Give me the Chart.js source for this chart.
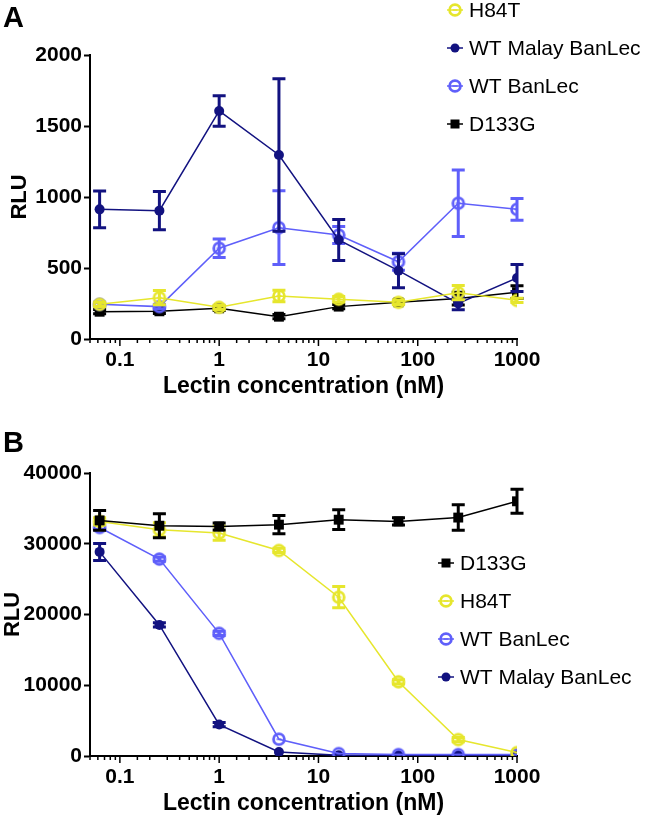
<!DOCTYPE html>
<html>
<head>
<meta charset="utf-8">
<script src="https://cdn.jsdelivr.net/npm/chart.js@4"></script>
<style>
    body { margin: 0; background: #fff; }
    #wrap { width: 645px; height: 818px; }
    canvas { display: block; }
</style>
</head>
<body>
<div id="wrap">
    <canvas id="chartA" width="645" height="400"></canvas>
    <canvas id="chartB" width="645" height="418"></canvas>
</div>
<script>
// Lectin concentrations (nM), same for both panels
const concentrations = [0.0625, 0.25, 1, 4, 16, 64, 256, 1000];
const xTickLabels = [0.1, 1, 10, 100, 1000];

// Panel A values (RLU) and error bars
const h84tA = [244, 291, 223, 303, 280, 258, 326, 272];
const h84tAErr = [15, 50, 15, 40, 20, 15, 50, 15];
const malayA = [913, 904, 1606, 1296, 697, 481, 251, 430];
const malayAErr = [130, 135, 107, 537, 145, 120, 45, 95];
const wtA = [244, 228, 639, 784, 732, 544, 956, 913];
const wtAErr = [15, 15, 65, 260, 60, 60, 235, 77];
const d133gA = [192, 195, 216, 157, 228, 258, 285, 330];
const d133gAErr = [15, 15, 15, 15, 15, 15, 45, 45];

// Panel B values (RLU) and error bars
const d133gB = [33300, 32550, 32450, 32700, 33400, 33160, 33700, 36000];
const d133gBErr = [1400, 1700, 500, 1300, 1400, 500, 1800, 1700];
const h84tB = [33160, 31980, 31510, 29050, 22440, 10490, 2320, 480];
const h84tBErr = [500, 1000, 1000, 300, 1500, 300, 300, 200];
const wtB = [32300, 27830, 17340, 2370, 340, 200, 200, 200];
const wtBErr = [300, 300, 300, 200, 100, 100, 100, 100];
const malayB = [28850, 18520, 4440, 570, 100, 100, 100, 100];
const malayBErr = [1200, 300, 300, 100, 50, 50, 50, 50];

const YELLOW = 'rgb(230,230,45)';
const BLUE = 'rgb(95,95,250)';
const NAVY = 'rgb(18,18,128)';
const BLACK = '#000';
const FONT = "'Liberation Sans', Arial, sans-serif";

// open circle marker with the little dash in the middle
function makeRing(color) {
    const c = document.createElement('canvas');
    c.width = 16;
    c.height = 16;
    const g = c.getContext('2d');
    g.strokeStyle = color;
    g.lineWidth = 2.8;
    g.beginPath();
    g.arc(8, 8, 5.4, 0, Math.PI * 2);
    g.stroke();
    g.fillStyle = color;
    g.fillRect(5.5, 7.3, 5, 1.4);
    return c;
}

const ringYellow = makeRing(YELLOW);
const ringBlue = makeRing(BLUE);

const series = {
    h84t: { label: 'H84T', color: YELLOW, pointStyle: ringYellow, radius: 8 },
    malay: { label: 'WT Malay BanLec', color: NAVY, pointStyle: 'circle', radius: 5 },
    wt: { label: 'WT BanLec', color: BLUE, pointStyle: ringBlue, radius: 8 },
    d133g: { label: 'D133G', color: BLACK, pointStyle: 'rect', radius: 7 }
};

function dataset(key, values, errors) {
    const s = series[key];
    return {
        label: s.label,
        data: concentrations.map((c, i) => ({ x: c, y: values[i] })),
        errors: errors,
        borderColor: s.color,
        backgroundColor: s.color,
        borderWidth: 1.5,
        pointStyle: s.pointStyle,
        pointRadius: s.radius,
        pointHoverRadius: s.radius,
        pointBorderWidth: 0,
        tension: 0
    };
}

// error bars, drawn under each dataset's points
const errorBars = {
    id: 'errorBars',
    beforeDatasetDraw(chart, args) {
        const ds = chart.data.datasets[args.index];
        if (!ds.errors) return;
        const y = chart.scales.y;
        const ctx = chart.ctx;
        ctx.save();
        ctx.strokeStyle = ds.borderColor;
        ctx.lineWidth = 3;
        args.meta.data.forEach((pt, i) => {
            const e = ds.errors[i];
            const v = ds.data[i].y;
            const top = y.getPixelForValue(v + e);
            const bot = y.getPixelForValue(Math.max(v - e, 0));
            if (bot - top < 4) return;
            ctx.beginPath();
            ctx.moveTo(pt.x, top);
            ctx.lineTo(pt.x, bot);
            ctx.moveTo(pt.x - 6.5, top);
            ctx.lineTo(pt.x + 6.5, top);
            ctx.moveTo(pt.x - 6.5, bot);
            ctx.lineTo(pt.x + 6.5, bot);
            ctx.stroke();
        });
        ctx.restore();
    }
};

// log axis tick marks: long ones at decades, short ones between
const logTicks = {
    id: 'logTicks',
    afterDraw(chart) {
        const x = chart.scales.x;
        const ctx = chart.ctx;
        ctx.save();
        ctx.strokeStyle = '#000';
        ctx.lineWidth = 1.5;
        x.ticks.forEach(t => {
            const lg = Math.log10(t.value);
            const major = Math.abs(lg - Math.round(lg)) < 1e-6;
            const px = x.getPixelForValue(t.value);
            ctx.beginPath();
            ctx.moveTo(px, x.top);
            ctx.lineTo(px, x.top + (major ? 7 : 4));
            ctx.stroke();
        });
        ctx.restore();
    }
};

// legend and panel letter
const sideLegend = {
    id: 'sideLegend',
    afterDraw(chart, args, opts) {
        const ctx = chart.ctx;
        ctx.save();
        ctx.fillStyle = '#000';
        ctx.font = 'bold 29px ' + FONT;
        ctx.textBaseline = 'alphabetic';
        ctx.fillText(opts.letter, 3, opts.letterY);

        ctx.font = '21px ' + FONT;
        ctx.textBaseline = 'middle';
        opts.order.forEach((key, i) => {
            const s = series[key];
            const mx = opts.x;
            const my = opts.y + i * opts.gap;
            ctx.strokeStyle = s.color;
            ctx.lineWidth = 1.5;
            ctx.beginPath();
            ctx.moveTo(mx - 8, my);
            ctx.lineTo(mx + 8, my);
            ctx.stroke();
            ctx.fillStyle = s.color;
            if (s.pointStyle === 'rect') {
                ctx.fillRect(mx - 4.5, my - 4.5, 9, 9);
            } else if (s.pointStyle === 'circle') {
                ctx.beginPath();
                ctx.arc(mx, my, 4.5, 0, Math.PI * 2);
                ctx.fill();
            } else {
                ctx.drawImage(s.pointStyle, mx - 8, my - 8);
            }
            ctx.fillStyle = '#000';
            ctx.fillText(s.label, opts.textX, my + 1);
        });
        ctx.restore();
    }
};

function makeChart(id, cfg) {
    return new Chart(document.getElementById(id), {
        type: 'line',
        data: { datasets: cfg.datasets },
        options: {
            responsive: false,
            animation: false,
            events: [],
            layout: { padding: { top: cfg.top, right: 128, left: 0, bottom: 0 } },
            scales: {
                x: {
                    type: 'logarithmic',
                    min: 0.05,
                    max: 1000,
                    afterFit: (scale) => { scale.height = cfg.xHeight; },
                    border: { color: '#000', width: 2 },
                    grid: { display: false },
                    ticks: {
                        autoSkip: false,
                        maxRotation: 0,
                        padding: 1,
                        color: '#000',
                        font: { family: FONT, size: 21, weight: 'bold' },
                        callback: (v) => xTickLabels.includes(v) ? String(v) : ''
                    },
                    title: {
                        display: true,
                        text: 'Lectin concentration (nM)',
                        color: '#000',
                        font: { family: FONT, size: 23, weight: 'bold' },
                        padding: { top: 0, bottom: cfg.xTitlePad }
                    }
                },
                y: {
                    min: 0,
                    max: cfg.yMax,
                    afterFit: (scale) => { scale.width = 90; },
                    border: { color: '#000', width: 2 },
                    grid: {
                        drawOnChartArea: false,
                        drawTicks: true,
                        tickLength: 6,
                        tickColor: '#000',
                        tickWidth: 2
                    },
                    ticks: {
                        stepSize: cfg.yStep,
                        padding: 2,
                        color: '#000',
                        font: { family: FONT, size: 21, weight: 'bold' },
                        callback: (v) => String(v)
                    },
                    title: {
                        display: true,
                        text: 'RLU',
                        color: '#000',
                        font: { family: FONT, size: 22, weight: 'bold' },
                        padding: { top: cfg.yTitlePad, bottom: 0 }
                    }
                }
            },
            plugins: {
                legend: { display: false },
                tooltip: { enabled: false },
                sideLegend: cfg.legend
            }
        },
        plugins: [errorBars, logTicks, sideLegend]
    });
}

makeChart('chartA', {
    top: 55,
    xHeight: 61,
    xTitlePad: 0,
    yTitlePad: 7,
    yMax: 2000,
    yStep: 500,
    datasets: [
        dataset('h84t', h84tA, h84tAErr),
        dataset('malay', malayA, malayAErr),
        dataset('wt', wtA, wtAErr),
        dataset('d133g', d133gA, d133gAErr)
    ],
    legend: { letter: 'A', letterY: 27, x: 455, textX: 469, y: 10, gap: 38, order: ['h84t', 'malay', 'wt', 'd133g'] }
});

makeChart('chartB', {
    top: 73,
    xHeight: 62,
    xTitlePad: 1,
    yTitlePad: 0,
    yMax: 40000,
    yStep: 10000,
    datasets: [
        dataset('d133g', d133gB, d133gBErr),
        dataset('h84t', h84tB, h84tBErr),
        dataset('wt', wtB, wtBErr),
        dataset('malay', malayB, malayBErr)
    ],
    legend: { letter: 'B', letterY: 52, x: 446, textX: 460, y: 163, gap: 38, order: ['d133g', 'h84t', 'wt', 'malay'] }
});
</script>
</body>
</html>
